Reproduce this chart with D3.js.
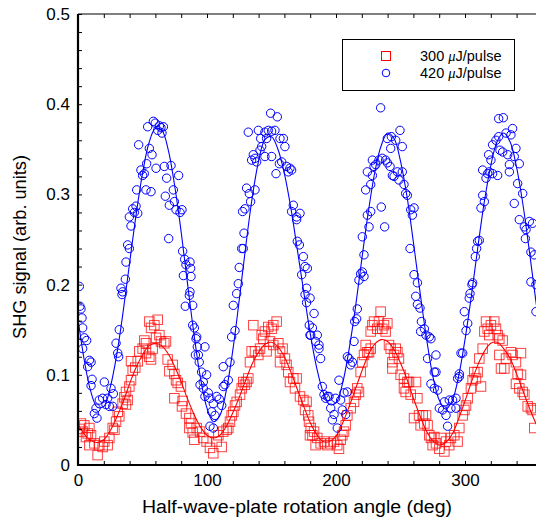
<!DOCTYPE html>
<html><head><meta charset="utf-8">
<script src="https://cdn.jsdelivr.net/npm/d3@7/dist/d3.min.js"></script>
<style>
html,body{margin:0;padding:0;background:#fff;}
svg{display:block;font-family:"Liberation Sans",Arial,Helvetica,sans-serif;}
</style></head>
<body>
<svg id="chart" width="536" height="518"></svg>
<script>
// ---------- data ----------
const xTicks = [0, 100, 200, 300];
const yTicks = [0, 0.1, 0.2, 0.3, 0.4, 0.5];
const yTickLabels = ["0", "0.1", "0.2", "0.3", "0.4", "0.5"];
const seriesNames = ["300 \u03bcJ/pulse", "420 \u03bcJ/pulse"];

const fitAngle = [0,5,10,15,20,25,30,35,40,45,50,55,60,65,70,75,80,85,90,95,100,105,110,115,120,125,130,135,140,145,150,155,160,165,170,175,180,185,190,195,200,205,210,215,220,225,230,235,240,245,250,255,260,265,270,275,280,285,290,295,300,305,310,315,320,325,330,335,340,345,350,355,360];
const blueFit = [0.162,0.115,0.081,0.064,0.065,0.086,0.122,0.170,0.224,0.277,0.323,0.357,0.373,0.371,0.349,0.309,0.258,0.200,0.144,0.096,0.063,0.048,0.055,0.083,0.127,0.183,0.242,0.296,0.337,0.361,0.364,0.350,0.323,0.285,0.239,0.192,0.146,0.108,0.081,0.067,0.069,0.090,0.127,0.174,0.228,0.280,0.324,0.354,0.368,0.362,0.337,0.298,0.247,0.193,0.142,0.099,0.072,0.062,0.071,0.098,0.139,0.188,0.242,0.292,0.332,0.359,0.368,0.358,0.330,0.288,0.236,0.181,0.131];
const redFit = [0.045,0.034,0.027,0.025,0.028,0.038,0.053,0.070,0.090,0.108,0.122,0.132,0.135,0.132,0.123,0.109,0.092,0.073,0.056,0.042,0.033,0.030,0.033,0.043,0.058,0.075,0.094,0.112,0.125,0.134,0.136,0.131,0.120,0.103,0.084,0.065,0.047,0.034,0.026,0.026,0.032,0.046,0.064,0.084,0.104,0.122,0.134,0.139,0.137,0.128,0.113,0.095,0.074,0.055,0.038,0.027,0.022,0.025,0.034,0.051,0.071,0.092,0.111,0.126,0.135,0.136,0.129,0.118,0.101,0.082,0.063,0.046,0.033];

const bluePoints = [
[1.0,0.198],[1.5,0.176],[2.3,0.173],[3.1,0.163],[3.6,0.152],[4.9,0.141],[6.7,0.138],[3.6,0.129],[8.8,0.116],[10.1,0.114],[7.5,0.109],[10.9,0.095],[10.1,0.088],[20.4,0.092],[25.6,0.085],[27.4,0.079],[16.5,0.072],[19.1,0.074],[14.0,0.063],[12.7,0.057],[14.7,0.052],[23.0,0.074],[21.7,0.067],[24.3,0.065],[26.9,0.065],[32.0,0.150],[29.5,0.135],[30.8,0.124],[31.5,0.120],[33.3,0.196],[34.6,0.192],[34.1,0.189],[36.7,0.206],[37.2,0.225],[38.5,0.244],[39.8,0.240],[41.1,0.265],[39.8,0.275],[42.4,0.284],[43.7,0.280],[46.3,0.279],[45.0,0.287],[45.5,0.305],[52.7,0.305],[56.6,0.303],[48.8,0.327],[50.1,0.321],[51.4,0.323],[53.2,0.334],[47.0,0.355],[55.3,0.351],[57.4,0.344],[54.0,0.375],[58.4,0.381],[59.9,0.379],[63.1,0.376],[61.8,0.371],[64.3,0.374],[66.2,0.375],[65.1,0.368],[60.5,0.329],[66.9,0.331],[72.1,0.332],[68.7,0.318],[73.9,0.305],[78.0,0.321],[67.7,0.298],[70.8,0.288],[74.7,0.292],[76.0,0.283],[79.1,0.280],[80.6,0.283],[70.3,0.251],[81.1,0.237],[82.7,0.228],[83.7,0.222],[81.7,0.210],[87.6,0.209],[86.8,0.192],[86.3,0.188],[88.9,0.177],[83.2,0.176],[88.9,0.155],[90.2,0.152],[91.5,0.140],[91.0,0.122],
[86.8,0.225],[87.3,0.218],
[92.0,0.142],[98.4,0.131],[92.5,0.131],[93.3,0.122],[94.0,0.114],[95.8,0.103],[99.7,0.100],[97.1,0.092],[94.6,0.089],[97.1,0.085],[101.0,0.080],[98.4,0.076],[102.3,0.074],[107.5,0.076],[109.5,0.073],[111.4,0.066],[104.9,0.068],[103.6,0.059],[106.2,0.055],[104.9,0.041],[102.3,0.043],
[112.6,0.087],[113.9,0.089],[116.5,0.094],[117.8,0.114],[112.6,0.109],[119.1,0.142],[121.7,0.149],[120.4,0.177],[123.0,0.190],[124.3,0.201],[125.0,0.219],[128.1,0.240],[126.9,0.240],[128.7,0.257],[127.6,0.281],[129.4,0.284],[130.7,0.307],[132.8,0.301],[133.8,0.292],[137.2,0.305],
[134.6,0.338],[137.2,0.340],[138.5,0.336],[135.9,0.344],[141.1,0.349],[142.4,0.353],[141.6,0.362],[139.8,0.371],[132.0,0.369],
[144.9,0.369],[147.5,0.371],[150.1,0.370],[152.7,0.371],[146.2,0.362],[150.1,0.342],[144.9,0.342],[149.3,0.390],[154.5,0.386],[156.6,0.362],[160.4,0.353],[159.2,0.362],[157.9,0.336],[156.1,0.334],[153.5,0.323],[161.7,0.331],[164.3,0.329],
[163.0,0.325],[165.6,0.327],[166.9,0.288],[165.6,0.281],[169.5,0.275],[169.5,0.272],[172.1,0.279],[170.0,0.248],[171.6,0.244],[174.7,0.231],[173.4,0.211],[176.0,0.220],[177.2,0.196],[176.0,0.189],[177.2,0.180],[179.3,0.155],[179.8,0.144],
[177.8,0.218],[179.9,0.185],[183.0,0.168],[180.4,0.144],[181.7,0.152],[185.5,0.144],[184.2,0.137],[186.8,0.133],[188.1,0.118],[186.8,0.129],
[189.4,0.087],[190.7,0.078],[192.0,0.074],[193.3,0.076],[194.6,0.076],[195.9,0.063],[198.5,0.056],[201.0,0.041],[197.2,0.050],[202.3,0.094],[199.7,0.074],[203.6,0.072],[204.9,0.061],[206.2,0.080],[208.8,0.081],[207.5,0.056],
[210.1,0.118],[211.4,0.111],[212.7,0.114],[208.8,0.120],[214.0,0.137],[214.5,0.159],[216.0,0.162],[216.5,0.173],[217.8,0.205],[219.1,0.212],[221.7,0.209],[220.4,0.214],[221.7,0.233],[220.4,0.253],[225.6,0.264],[224.3,0.277],[226.9,0.281],[223.0,0.305],[224.3,0.325],[226.9,0.311],[228.2,0.321],[229.5,0.331],[228.2,0.338],[230.8,0.333],[233.3,0.338],[235.9,0.340],[238.5,0.338],[239.8,0.335],[241.9,0.331],[242.4,0.351],[242.9,0.364],[239.8,0.362],[246.3,0.360],[249.6,0.371],[251.4,0.353],[243.7,0.321],[245.0,0.320],[248.8,0.316],[251.4,0.325],[247.6,0.325],[234.6,0.396],[235.1,0.286],[237.7,0.264],
[252.7,0.311],[254.0,0.301],[255.3,0.299],[257.9,0.283],[259.2,0.277],[260.5,0.285],[257.4,0.240],[260.5,0.211],[263.1,0.202],[261.8,0.187],[263.1,0.178],[265.1,0.174],[266.2,0.159],[265.6,0.148],[268.5,0.151],
[269.8,0.144],[272.3,0.142],[273.6,0.140],[271.0,0.118],[277.5,0.122],[276.2,0.103],[277.5,0.103],[273.6,0.090],[276.2,0.085],[278.8,0.083],[280.1,0.063],[282.7,0.061],[285.3,0.055],[286.5,0.043],[284.0,0.070],[287.8,0.072],[290.4,0.072],[293.0,0.074],[289.1,0.063],[293.0,0.063],[294.3,0.096],[295.6,0.098],[295.6,0.101],[296.9,0.124],[298.2,0.124],[300.8,0.149],[302.1,0.157],[299.5,0.170],[303.3,0.185],[303.9,0.190],[305.4,0.200],[305.9,0.202],[308.0,0.231],[309.0,0.240],[309.8,0.248],[311.1,0.249],[312.4,0.285],[313.7,0.299],[315.0,0.292],[316.3,0.318],[317.6,0.323],[313.7,0.327],[318.8,0.325],[321.4,0.323],[325.3,0.321],[318.3,0.344],[320.1,0.338],[321.4,0.355],[324.0,0.360],[326.1,0.364],[327.1,0.349],[329.2,0.347],[326.1,0.384],[329.7,0.385],[331.8,0.368],[335.6,0.366],[336.9,0.373],[333.1,0.344],[334.4,0.333],[338.2,0.342],[339.5,0.351],[342.1,0.334],[334.4,0.325],[340.8,0.312],[344.7,0.301],[338.2,0.290],[342.1,0.272],[346.0,0.264],[349.9,0.270],[347.3,0.261],[346.8,0.251],[352.4,0.268],[351.1,0.236],[353.7,0.233],[351.1,0.203],[355.0,0.200],[355.0,0.170]
];

const redPoints = [
[2.3,0.046],[4.9,0.044],[8.8,0.041],[7.5,0.035],[3.6,0.037],[10.1,0.033],[6.2,0.031],[1.0,0.040],
[8.8,0.022],[12.7,0.024],[15.2,0.011],[16.5,0.022],[19.1,0.020],[23.0,0.022],[20.4,0.026],[24.3,0.030],[26.9,0.041],[28.2,0.039],
[29.5,0.048],[32.0,0.054],[30.8,0.059],[34.6,0.068],[35.9,0.075],[37.2,0.081],
[37.2,0.067],[38.5,0.072],[39.8,0.087],[41.1,0.094],[42.4,0.105],[44.4,0.108],[46.3,0.115],[41.1,0.115],
[47.5,0.126],[50.1,0.129],[52.7,0.135],[51.4,0.138],[55.3,0.159],[56.6,0.152],[59.2,0.155],[61.8,0.161],[63.1,0.144],[60.5,0.141],[64.3,0.137],[66.9,0.135],[68.2,0.137],[57.9,0.129],
[52.7,0.124],[55.3,0.120],[56.6,0.117],
[69.5,0.117],[73.4,0.111],[70.8,0.104],[74.7,0.101],[76.0,0.094],[77.3,0.091],[79.8,0.087],[74.7,0.074],[81.1,0.071],[80.6,0.065],[83.7,0.057],[86.3,0.052],[87.6,0.046],[86.3,0.041],[88.9,0.036],[90.2,0.028],
[92.0,0.041],[94.6,0.037],[97.1,0.030],[99.7,0.026],[102.3,0.019],[104.9,0.013],[107.5,0.026],[108.8,0.033],[111.4,0.020],[112.6,0.037],[115.2,0.039],[116.5,0.041],[117.8,0.048],[119.1,0.055],[120.4,0.059],[121.7,0.066],[123.0,0.070],[125.6,0.078],[126.9,0.085],[128.1,0.092],[129.4,0.089],[130.7,0.092],[132.0,0.096],
[133.3,0.114],[135.9,0.155],[134.6,0.126],[137.2,0.126],[139.8,0.122],[141.1,0.129],[142.4,0.144],[143.6,0.140],[146.2,0.126],[148.8,0.137],[150.1,0.151],[151.4,0.155],[154.0,0.159],[147.5,0.153],[144.9,0.148],[151.4,0.133],[155.3,0.135],[156.6,0.126],[158.6,0.129],[160.4,0.118],[156.6,0.114],[161.7,0.111],[163.0,0.103],[164.3,0.092],[166.9,0.096],[169.5,0.096],[168.2,0.085],[172.1,0.076],[174.7,0.072],[177.2,0.070],[176.0,0.061],[178.5,0.055],[179.8,0.033],
[179.1,0.048],[180.4,0.041],[183.0,0.037],[181.7,0.033],[185.5,0.030],[184.2,0.022],[188.1,0.024],[190.7,0.026],[193.3,0.022],[195.9,0.024],[198.5,0.026],[201.0,0.022],[202.3,0.018],[203.6,0.028],[204.9,0.033],[206.2,0.037],[207.5,0.044],[208.8,0.055],[211.4,0.063],[214.0,0.070],[216.5,0.085],[217.8,0.081],[215.2,0.078],[219.1,0.103],[220.4,0.114],[221.7,0.122],[223.0,0.133],[224.3,0.125],[225.6,0.125],[226.9,0.129],[226.9,0.148],[228.2,0.155],[229.5,0.159],[232.0,0.151],[234.6,0.170],[235.9,0.151],[233.3,0.159],[237.2,0.155],[239.8,0.157],[238.5,0.148],[241.1,0.133],[242.4,0.129],[243.7,0.114],[245.0,0.122],[246.3,0.129],[247.6,0.125],[248.8,0.118],[243.7,0.107],[250.1,0.100],[252.7,0.096],[255.3,0.092],[256.6,0.092],[252.7,0.085],[254.0,0.081],[257.9,0.078],[263.1,0.074],[260.5,0.052],[264.4,0.055],[265.6,0.044],
[262.0,0.092],[267.2,0.055],[269.8,0.055],[268.5,0.046],[271.0,0.044],[272.3,0.033],[273.6,0.030],[274.9,0.022],[276.2,0.031],[277.5,0.024],[280.1,0.018],[281.4,0.030],[284.0,0.015],[285.3,0.026],[287.8,0.022],[289.1,0.030],[291.7,0.033],[294.3,0.026],[295.6,0.041],[298.2,0.055],[299.5,0.061],[300.8,0.066],[302.1,0.074],[304.6,0.085],[305.9,0.094],[307.2,0.103],[308.5,0.096],[309.8,0.103],[312.4,0.087],[311.1,0.118],[313.7,0.129],[315.0,0.148],[316.3,0.159],[317.6,0.151],[318.8,0.144],[320.1,0.155],[322.7,0.159],[324.0,0.151],[325.3,0.144],[326.6,0.140],[329.2,0.138],[326.6,0.122],[327.9,0.107],[330.5,0.107],[331.8,0.118],[335.6,0.125],[336.9,0.122],[339.5,0.114],[343.4,0.124],[340.8,0.101],[343.4,0.100],[339.5,0.090],[342.1,0.085],[344.7,0.081],[346.0,0.078],[348.6,0.065],[351.1,0.063],[352.4,0.061],[353.7,0.041]
];

// ---------- layout ----------
const svg = d3.select("#chart");
const L = 78, T = 14, B = 465, R = 78 + 360 * 1.29;
const x = d3.scaleLinear().domain([0, 360]).range([L, R]);
const y = d3.scaleLinear().domain([0, 0.5]).range([B, T]);

svg.append("defs").append("clipPath").attr("id", "clip")
  .append("rect").attr("x", L).attr("y", T).attr("width", R - L).attr("height", B - T);

const plot = svg.append("g").attr("clip-path", "url(#clip)");

// red squares
const sq = 9.5;
plot.append("g").selectAll("rect").data(redPoints).join("rect")
  .attr("x", d => x(d[0]) - sq / 2).attr("y", d => y(d[1]) - sq / 2)
  .attr("width", sq).attr("height", sq)
  .attr("fill", "none").attr("stroke", "#ff0000").attr("stroke-opacity", 0.75).attr("stroke-width", 1);

// blue circles
plot.append("g").selectAll("circle").data(bluePoints).join("circle")
  .attr("cx", d => x(d[0])).attr("cy", d => y(d[1])).attr("r", 4.2)
  .attr("fill", "none").attr("stroke", "#0000ff").attr("stroke-width", 1);

// fit lines
const line = d3.line().curve(d3.curveCatmullRom.alpha(0.5));
plot.append("path")
  .attr("d", line(fitAngle.map((a, i) => [x(a), y(redFit[i])])))
  .attr("fill", "none").attr("stroke", "#ff0000").attr("stroke-width", 1.1);
plot.append("path")
  .attr("d", line(fitAngle.map((a, i) => [x(a), y(blueFit[i])])))
  .attr("fill", "none").attr("stroke", "#0000ff").attr("stroke-width", 1.1);

// ---------- axes ----------
const ax = svg.append("g");
const xMinor = d3.range(0, 361, 20);
const yMinor = d3.range(0, 0.5001, 0.02);

ax.append("g").attr("transform", `translate(0,${B})`)
  .call(d3.axisBottom(x).tickValues(xMinor).tickSize(-4).tickFormat(""))
  .call(g => g.select(".domain").remove())
  .call(g => g.selectAll("line").attr("stroke", "#000").attr("stroke-width", 1));
ax.append("g").attr("transform", `translate(0,${B})`)
  .call(d3.axisBottom(x).tickValues(xTicks).tickSize(0).tickPadding(9).tickFormat(d3.format("d")))
  .call(g => g.select(".domain").remove())
  .call(g => g.selectAll("text").attr("font-size", 17).attr("font-family", "Liberation Sans, Arial, sans-serif").attr("fill", "#000"));
ax.append("g").attr("transform", `translate(0,${T})`)
  .call(d3.axisTop(x).tickValues(xMinor).tickSize(-4).tickFormat(""))
  .call(g => g.select(".domain").remove())
  .call(g => g.selectAll("line").attr("stroke", "#000").attr("stroke-width", 1));
ax.append("g").attr("transform", `translate(${L},0)`)
  .call(d3.axisLeft(y).tickValues(yMinor).tickSize(-4).tickFormat(""))
  .call(g => g.select(".domain").remove())
  .call(g => g.selectAll("line").attr("stroke", "#000").attr("stroke-width", 1));
ax.append("g").attr("transform", `translate(${L},0)`)
  .call(d3.axisLeft(y).tickValues(yTicks).tickSize(0).tickPadding(8).tickFormat((d, i) => yTickLabels[i]))
  .call(g => g.select(".domain").remove())
  .call(g => g.selectAll("text").attr("font-size", 17).attr("font-family", "Liberation Sans, Arial, sans-serif").attr("fill", "#000"));

// frame
ax.append("line").attr("x1", L).attr("x2", L).attr("y1", T).attr("y2", B + 1).attr("stroke", "#000").attr("stroke-width", 2.2);
ax.append("line").attr("x1", L - 1).attr("x2", R).attr("y1", B).attr("y2", B).attr("stroke", "#000").attr("stroke-width", 2.2);
ax.append("line").attr("x1", L).attr("x2", R).attr("y1", T).attr("y2", T).attr("stroke", "#000").attr("stroke-width", 1.2);
ax.append("line").attr("x1", R).attr("x2", R).attr("y1", T).attr("y2", B).attr("stroke", "#000").attr("stroke-width", 1.2);

// axis titles
svg.append("text").attr("x", 297).attr("y", 513).attr("text-anchor", "middle")
  .attr("font-size", 18).attr("fill", "#000")
  .attr("textLength", 310).attr("lengthAdjust", "spacingAndGlyphs")
  .text("Half-wave-plate rotation angle (deg)");
svg.append("text").attr("transform", "translate(26,247) rotate(-90)").attr("text-anchor", "middle")
  .attr("font-size", 18).attr("fill", "#000")
  .attr("textLength", 184).attr("lengthAdjust", "spacingAndGlyphs")
  .text("SHG signal (arb. units)");

// ---------- legend ----------
const lg = svg.append("g");
lg.append("rect").attr("x", 342.5).attr("y", 39.5).attr("width", 172).attr("height", 51)
  .attr("fill", "#fff").attr("stroke", "#000").attr("stroke-width", 1);
lg.append("rect").attr("x", 386 - 4.5).attr("y", 56 - 4.5).attr("width", 9).attr("height", 9)
  .attr("fill", "none").attr("stroke", "#ff0000").attr("stroke-width", 1);
lg.append("circle").attr("cx", 386).attr("cy", 73).attr("r", 3.8)
  .attr("fill", "none").attr("stroke", "#0000ff").attr("stroke-width", 1);
seriesNames.forEach((name, i) => {
  const parts = name.split("\u03bc");
  const t = lg.append("text").attr("x", 420).attr("y", 61 + i * 17).attr("font-size", 14.5).attr("fill", "#000");
  t.append("tspan").text(parts[0]);
  t.append("tspan").attr("font-style", "italic").attr("font-family", "Liberation Serif, serif").text("\u03bc");
  t.append("tspan").text(parts[1]);
});
</script>
</body></html>
